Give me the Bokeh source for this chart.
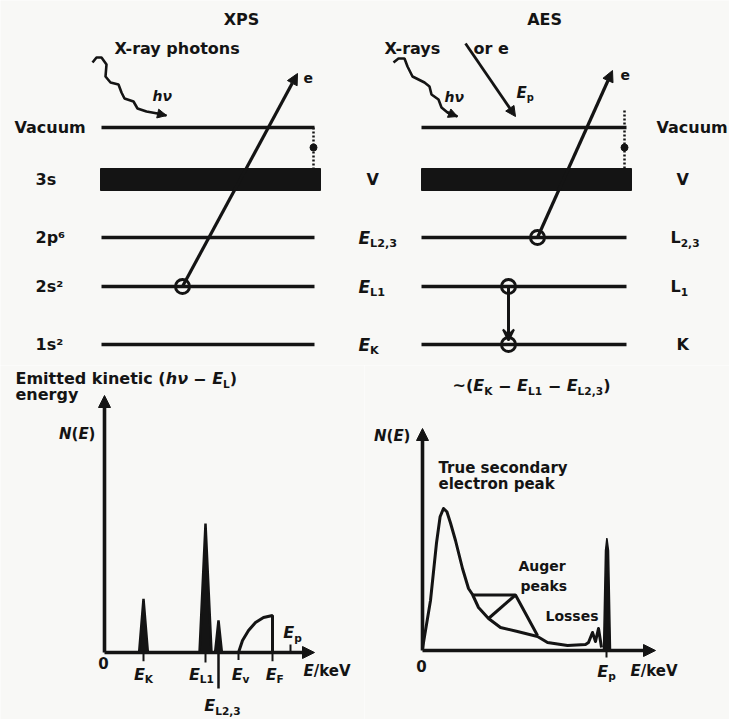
from bokeh.plotting import figure
from bokeh.layouts import column, row
from bokeh.models import Arrow, NormalHead, VeeHead, Range1d
from bokeh.core.properties import value
from bokeh.embed import file_html
from bokeh.resources import INLINE

INK = "#141414"
BG = "#f8f8f6"
FONT = "DejaVu Sans"

# ---------------- energy-level scheme (diagram units, y grows downward) -----
level_y = [127, 179, 237, 286, 344]            # Vacuum, 3s/V, 2p/L2,3, 2s/L1, 1s/K
xps_level_labels = ["Vacuum", "3s", "2p⁶", "2s²", "1s²"]
mid_main = ["", "V", "E", "E", "E"]
mid_sub = ["", "", "L2,3", "L1", "K"]
aes_main = ["Vacuum", "V", "L", "L", "K"]
aes_sub = ["", "", "2,3", "1", ""]

# photon wiggles
xps_photon_x = [92, 96, 101, 106, 105, 110, 118, 121, 124, 133, 137, 146, 157, 166]
xps_photon_y = [62, 57, 57, 64, 76, 82, 84, 92, 98, 101, 108, 111, 113, 115]
aes_photon_x = [393, 398, 404, 407, 412, 424, 429, 431, 438, 441, 447, 457]
aes_photon_y = [62, 58, 58, 66, 76, 82, 86, 94, 99, 107, 112, 116]

# ---------------- XPS spectrum (E and N(E) in arbitrary units) --------------
xps_peak_E = [1.95, 5.05, 5.7]          # E_K, E_L1, E_L2,3
xps_peak_N = [2.15, 5.16, 1.28]
xps_peak_hw = [0.22, 0.3, 0.17]
vb_E = [6.7, 6.9, 7.2, 7.55, 7.95, 8.4, 8.4]
vb_N = [0.0, 0.48, 0.88, 1.2, 1.4, 1.48, 0.0]
xps_Ev, xps_EF, xps_Ep = 6.7, 8.4, 9.3

# ---------------- AES spectrum ---------------------------------------------
aes_E = [0.0, 0.4, 0.7, 0.88, 1.05, 1.22, 1.4, 1.65, 2.0, 2.3, 2.5, 2.8, 3.3,
         3.9, 4.75, 5.75, 6.25, 7.25, 8.15, 8.3, 8.5, 8.65, 8.8, 8.95]
aes_N = [0.08, 2.0, 4.3, 5.35, 5.68, 5.55, 5.1, 4.4, 3.28, 2.48, 2.24, 1.72,
         1.28, 0.92, 0.76, 0.56, 0.32, 0.2, 0.24, 0.32, 0.72, 0.36, 0.88, 0.12]
auger_E = [2.5, 4.65, 5.75]
auger_N = [2.22, 2.22, 0.6]
auger_rise_E = [3.3, 4.65]
auger_rise_N = [1.28, 2.22]
elastic_E = [9.05, 9.15, 9.22, 9.3, 9.4]
elastic_N = [0.0, 4.0, 4.5, 4.0, 0.0]
aes_Ep = 9.2

# approximate advance widths (em) for DejaVu Sans Bold
CW = {"A": .77, "E": .68, "K": .78, "L": .64, "N": .84, "V": .77, "X": .77,
      "P": .73, "S": .72, "T": .68, "F": .63, "a": .68, "c": .59, "e": .68,
      "g": .72, "h": .71, "i": .34, "k": .67, "l": .34, "m": 1.04, "n": .71,
      "o": .69, "p": .72, "r": .49, "s": .6, "t": .48, "u": .71, "v": .65,
      "y": .65, "d": .72, " ": .35, "-": .42, "(": .46, ")": .46, ",": .38,
      "/": .37, "~": .84, "−": .84, "ν": .65, "²": .44, "⁶": .44,
      "0": .70, "1": .70, "2": .70, "3": .70}


def blank(width, height, xr, yr):
    p = figure(width=width, height=height, x_range=Range1d(*xr), y_range=Range1d(*yr),
               output_backend="svg", toolbar_location=None, min_border=0,
               x_axis_location=None, y_axis_location=None)
    p.grid.visible = False
    p.outline_line_color = None
    p.background_fill_color = BG
    p.border_fill_color = BG
    return p


def piece_style(kind, size):
    if kind == "sub":
        return size * 0.66, size * 0.33, "bold"
    if kind == "i":
        return size, 0.0, "bold italic"
    return size, 0.0, "bold"


def width_of(s, fs):
    return sum(CW.get(c, .68) for c in s) * fs


def run(p, x, y, pieces, size=16, align="left"):
    """Write a line of mixed upright / italic / subscript pieces."""
    total = sum(width_of(s, piece_style(k, size)[0]) for s, k in pieces)
    off = {"left": 0.0, "center": -total / 2, "right": -total}[align]
    for s, kind in pieces:
        fs, dy, style = piece_style(kind, size)
        lead = len(s) - len(s.lstrip(" "))
        body = s.strip(" ")
        if body:
            p.text(x=[x], y=[y], text=[body], x_offset=off + lead * CW[" "] * fs,
                   y_offset=dy, text_font=value(FONT), text_font_size=f"{fs:.1f}px",
                   text_font_style=style, text_align="left", text_baseline="middle",
                   text_color=INK)
        off += width_of(s, fs)


def arrow(p, x0, y0, x1, y1, lw=3.0, head=10, vee=False):
    if vee:
        h = VeeHead(size=head, fill_color=INK, line_color=INK, line_width=2)
    else:
        h = NormalHead(size=head, fill_color=INK, line_color=INK, line_width=1)
    p.add_layout(Arrow(end=h, x_start=x0, y_start=y0, x_end=x1, y_end=y1,
                       line_color=INK, line_width=lw))


# =============================== level diagrams ==============================
top = blank(729, 365, (0, 729), (365, 0))

run(top, 241, 19, [("XPS", "n")], 16, "center")
run(top, 544, 19, [("AES", "n")], 16, "center")

# --- XPS side
run(top, 114, 48, [("X-ray photons", "n")], 16)
top.line(xps_photon_x, xps_photon_y, line_color=INK, line_width=2.6)
arrow(top, xps_photon_x[-2], xps_photon_y[-2], xps_photon_x[-1], xps_photon_y[-1], 2.6, 9)
run(top, 152, 95, [("hν", "i")], 14)

xl, xr = 101, 314
for i, yv in enumerate(level_y):
    if i == 1:
        top.quad(left=xl - 1, right=xr + 6, top=yv - 11, bottom=yv + 11,
                 fill_color=INK, line_color=INK)
    else:
        top.line([xl, xr], [yv, yv], line_color=INK, line_width=3.6)
    run(top, 14 if i == 0 else 35, yv, [(xps_level_labels[i], "n")], 16)
top.line([xr - 1, xr - 1], [level_y[0], level_y[1] - 11], line_color=INK,
         line_width=2.5, line_dash="2 2")
top.scatter([xr - 1], [147], size=7, color=INK)
top.scatter([182], [level_y[3]], size=14, fill_alpha=0, line_color=INK, line_width=3)
arrow(top, 182, level_y[3], 297, 73, 3.2, 11)
run(top, 303, 77, [("e", "n")], 14)

# --- labels between the two schemes
run(top, 366, level_y[1], [("V", "n")], 16)
for i in (2, 3, 4):
    run(top, 358, level_y[i], [(mid_main[i], "i"), (mid_sub[i], "sub")], 17)

# --- AES side
run(top, 384, 48, [("X-rays", "n")], 16)
run(top, 473, 48, [("or e", "n")], 16)
top.line(aes_photon_x, aes_photon_y, line_color=INK, line_width=2.6)
arrow(top, aes_photon_x[-2], aes_photon_y[-2], aes_photon_x[-1], aes_photon_y[-1], 2.6, 9)
run(top, 444, 96, [("hν", "i")], 14)
arrow(top, 465, 43, 515, 116, 2.8, 10)
run(top, 516, 92, [("E", "i"), ("p", "sub")], 15)

al, ar = 421, 626
for i, yv in enumerate(level_y):
    if i == 1:
        top.quad(left=al, right=ar + 5, top=yv - 11, bottom=yv + 11,
                 fill_color=INK, line_color=INK)
    else:
        top.line([al, ar], [yv, yv], line_color=INK, line_width=3.6)
    if aes_sub[i]:
        run(top, 670, yv, [(aes_main[i], "n"), (aes_sub[i], "sub")], 16)
    else:
        run(top, 656 if i == 0 else 676, yv, [(aes_main[i], "n")], 16)
top.line([ar - 2, ar - 2], [110, level_y[1] - 11], line_color=INK,
         line_width=2.5, line_dash="2 2")
top.scatter([ar - 2], [147], size=7, color=INK)
top.scatter([537, 508, 508], [level_y[2], level_y[3], level_y[4]], size=14,
            fill_alpha=0, line_color=INK, line_width=3)
arrow(top, 537, level_y[2], 612, 70, 3.2, 11)
arrow(top, 508, level_y[3], 508, level_y[4] - 4, 3.0, 11, vee=True)
run(top, 620, 74, [("e", "n")], 14)

# =============================== XPS spectrum ================================
left = blank(364, 354, (-5.2, 13.0), (-2.68, 11.48))
run(left, -4.45, 10.96, [("Emitted kinetic (", "n"), ("hν", "i"), (" − ", "n"),
                         ("E", "i"), ("L", "sub"), (")", "n")], 16)
run(left, -4.45, 10.32, [("energy", "n")], 16)
arrow(left, 0, 0, 0, 10.28, 3.6, 12)
arrow(left, 0, 0, 10.5, 0, 3.6, 12)
for e, n, hw in zip(xps_peak_E, xps_peak_N, xps_peak_hw):
    left.patch([e - hw, e, e + hw], [0, n, 0], fill_color=INK, line_color=INK,
               line_width=2.5)
left.line(vb_E, vb_N, line_color=INK, line_width=3)
# tick marks at the characteristic energies
for e, d in zip([xps_peak_E[0], xps_peak_E[1], xps_Ev, xps_EF], [-0.35, -0.4, -0.3, -0.35]):
    left.line([e, e], [0, d], line_color=INK, line_width=2)
left.line([xps_peak_E[2], xps_peak_E[2]], [0.3, -1.44], line_color=INK, line_width=2.5)
left.line([xps_Ep, xps_Ep], [0, 0.32], line_color=INK, line_width=2)
run(left, -0.45, 8.76, [("N", "i"), ("(", "n"), ("E", "i"), (")", "n")], 15, "right")
run(left, -0.05, -0.4, [("0", "n")], 15, "center")
run(left, xps_peak_E[0], -0.86, [("E", "i"), ("K", "sub")], 16, "center")
run(left, xps_peak_E[1] - 0.2, -0.86, [("E", "i"), ("L1", "sub")], 16, "center")
run(left, xps_peak_E[2] + 0.2, -2.12, [("E", "i"), ("L2,3", "sub")], 16, "center")
run(left, xps_Ev + 0.1, -0.86, [("E", "i"), ("v", "sub")], 16, "center")
run(left, xps_EF + 0.1, -0.86, [("E", "i"), ("F", "sub")], 16, "center")
run(left, xps_Ep + 0.1, 0.8, [("E", "i"), ("p", "sub")], 16, "center")
run(left, 9.95, -0.72, [("E", "i"), ("/keV", "n")], 15)

# =============================== AES spectrum ================================
right = blank(365, 354, (-2.9, 15.35), (-2.76, 11.4))
run(right, 1.5, 10.6, [("~(", "n"), ("E", "i"), ("K", "sub"), (" − ", "n"),
                       ("E", "i"), ("L1", "sub"), (" − ", "n"), ("E", "i"),
                       ("L2,3", "sub"), (")", "n")], 16)
arrow(right, 0, 0, 0, 8.88, 3.6, 12)
arrow(right, 0, 0, 11.65, 0, 3.6, 12)
right.line(aes_E, aes_N, line_color=INK, line_width=3, line_join="round")
right.line(auger_E, auger_N, line_color=INK, line_width=3)
right.line(auger_rise_E, auger_rise_N, line_color=INK, line_width=3)
right.patch(elastic_E, elastic_N, fill_color=INK, line_color=INK, line_width=1.5)
right.line([aes_Ep, aes_Ep], [0, -0.28], line_color=INK, line_width=2)
run(right, -0.6, 8.6, [("N", "i"), ("(", "n"), ("E", "i"), (")", "n")], 15, "right")
run(right, 0.8, 7.3, [("True secondary", "n")], 15)
run(right, 0.8, 6.68, [("electron peak", "n")], 15)
run(right, 4.8, 3.4, [("Auger", "n")], 14)
run(right, 4.9, 2.6, [("peaks", "n")], 14)
run(right, 6.15, 1.4, [("Losses", "n")], 14)
run(right, -0.05, -0.6, [("0", "n")], 15, "center")
run(right, aes_Ep, -0.82, [("E", "i"), ("p", "sub")], 16, "center")
run(right, 10.4, -0.82, [("E", "i"), ("/keV", "n")], 15)

layout = column(top, row(left, right, spacing=0), spacing=0)
open("out.html", "w").write(file_html(layout, INLINE))
